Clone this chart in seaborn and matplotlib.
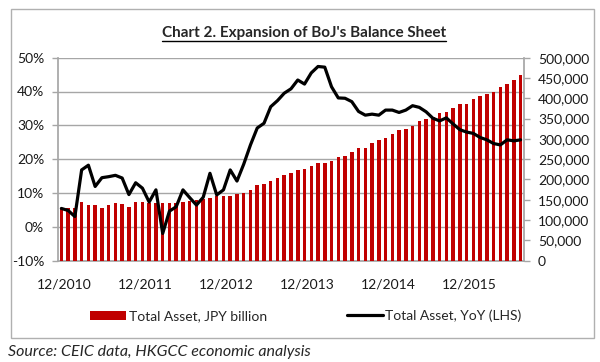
import numpy as np
import pandas as pd
import seaborn as sns
import matplotlib.pyplot as plt
from matplotlib.patches import Patch, Rectangle
from matplotlib.lines import Line2D
from matplotlib.ticker import FuncFormatter, MultipleLocator

# monthly, 12/2010 .. 08/2016
months = pd.period_range("2010-12", periods=69, freq="M").strftime("%m/%Y")

# BoJ total asset, JPY billion (right axis)
total_asset = [
    130000, 128500, 129500, 144000, 136500, 136500, 130500, 136500, 141000, 138500,
    132500, 144000, 144000, 142000, 141000, 141000, 141000, 141500, 143500, 146500,
    148000, 150500, 154000, 158000, 158500, 160000, 163500, 166500, 175000, 186500,
    188500, 195000, 204500, 210500, 215000, 222000, 224500, 233000, 241000, 241000,
    246000, 256000, 258500, 268500, 278000, 278000, 289000, 297000, 302500, 311000,
    321500, 324000, 332500, 344500, 348000, 354500, 364000, 367000, 375000, 385000,
    385000, 397500, 405500, 410000, 416000, 428500, 434500, 445000, 457500,
]

# total asset YoY, % (left axis)
yoy = [
    5.4, 4.8, 3.0, 16.8, 18.2, 11.9, 14.5, 14.8, 15.2, 14.4,
    9.5, 13.0, 11.4, 7.3, 10.9, -2.0, 4.6, 5.9, 10.9, 8.6,
    6.4, 8.7, 15.8, 9.4, 10.9, 16.8, 13.5, 18.5, 24.2, 29.2,
    30.6, 35.5, 37.3, 39.5, 40.8, 43.4, 42.2, 45.5, 47.4, 47.2,
    41.4, 38.1, 38.0, 37.0, 34.1, 33.0, 33.3, 33.0, 34.5, 34.5,
    33.8, 34.5, 35.8, 35.3, 34.0, 32.1, 31.3, 32.2, 30.4, 28.7,
    28.0, 27.6, 26.4, 25.7, 24.6, 24.2, 25.7, 25.4, 25.7,
]

tick_labels = ["12/2010", "12/2011", "12/2012", "12/2013", "12/2014", "12/2015"]

RED = "#C00000"
GRID = "#A6A6A6"
W, H = 600, 362

df = pd.DataFrame({"month": months, "asset": total_asset, "yoy": yoy})
df["pos"] = np.arange(len(df))

sns.set_theme(style="white")
plt.rcParams["font.family"] = ["Lato", "DejaVu Sans"]

fig = plt.figure(figsize=(6, 3.62), dpi=100)
ax = fig.add_axes([58 / W, 1 - 260.5 / H, (524 - 58) / W, (260.5 - 57.7) / H])
ax_bar = ax.twinx()
ax_line = ax.twinx()

sns.barplot(data=df, x="month", y="asset", color=RED, saturation=1,
            width=0.52, errorbar=None, linewidth=0, ax=ax_bar)
sns.lineplot(data=df, x="pos", y="yoy", color="black", linewidth=2.3, ax=ax_line)

# left axis (LHS, %)
ax.set_ylim(-10, 50)
ax.yaxis.set_major_locator(MultipleLocator(10))
ax.yaxis.set_major_formatter(FuncFormatter(lambda v, _: f"{v:.0f}%"))
ax.yaxis.grid(True, color=GRID, linewidth=1)
ax_line.set_ylim(-10, 50)
ax_line.axis("off")

# right axis (JPY billion)
ax_bar.set_ylim(0, 500000)
ax_bar.yaxis.set_major_locator(MultipleLocator(50000))
ax_bar.yaxis.set_major_formatter(FuncFormatter(lambda v, _: f"{v:,.0f}"))

ax.set_xlim(-0.5, len(df) - 0.5)
ax.set_xticks(np.arange(0, len(df), 12)[:len(tick_labels)] + 0.4)
ax.set_xticklabels(tick_labels)
for a in (ax, ax_bar, ax_line):
    a.set_xlabel("")
    a.set_ylabel("")

ax.tick_params(axis="y", direction="out", length=4, width=1, color=GRID,
               labelsize=10, pad=6, labelcolor="#1a1a1a", left=True)
ax_bar.tick_params(axis="y", direction="out", length=4, width=1, color=GRID,
                   labelsize=10, pad=6, labelcolor="#1a1a1a", right=True)
ax.tick_params(axis="x", length=0, labelsize=10, pad=13, labelcolor="#1a1a1a")

for name, sp in ax.spines.items():
    sp.set_visible(name in ("left", "bottom"))
    sp.set_color(GRID)
for name, sp in ax_bar.spines.items():
    sp.set_visible(name == "right")
    sp.set_color(GRID)

# legend
handles = [Patch(facecolor=RED, edgecolor="none"),
           Line2D([], [], color="black", linewidth=2.3)]
fig.legend(handles, ["Total Asset, JPY billion", "Total Asset, YoY (LHS)"],
           loc="center", bbox_to_anchor=(306 / W, 1 - 316 / H), ncol=2,
           frameon=False, fontsize=10, handlelength=2.6, handletextpad=0.15,
           columnspacing=5.8)

# outer chart frame
fig.add_artist(Rectangle((11 / W, 1 - 338 / H), 583 / W, 329 / H,
                         transform=fig.transFigure, fill=False,
                         edgecolor="#B0B0B0", linewidth=1))

title = fig.text(304 / W, 1 - 33 / H, "Chart 2. Expansion of BoJ's Balance Sheet",
                 ha="center", va="center", fontsize=11, fontweight="bold")
fig.text(8 / W, 1 - 352 / H, "Source: CEIC data, HKGCC economic analysis",
         ha="left", va="center", fontsize=11.5, style="italic")

# underline the title
fig.canvas.draw()
bb = title.get_window_extent().transformed(fig.transFigure.inverted())
fig.add_artist(Line2D([bb.x0, bb.x1], [bb.y0 - 1 / H, bb.y0 - 1 / H],
                      transform=fig.transFigure, color="black", linewidth=1))

fig.savefig("out.png", dpi=100)
